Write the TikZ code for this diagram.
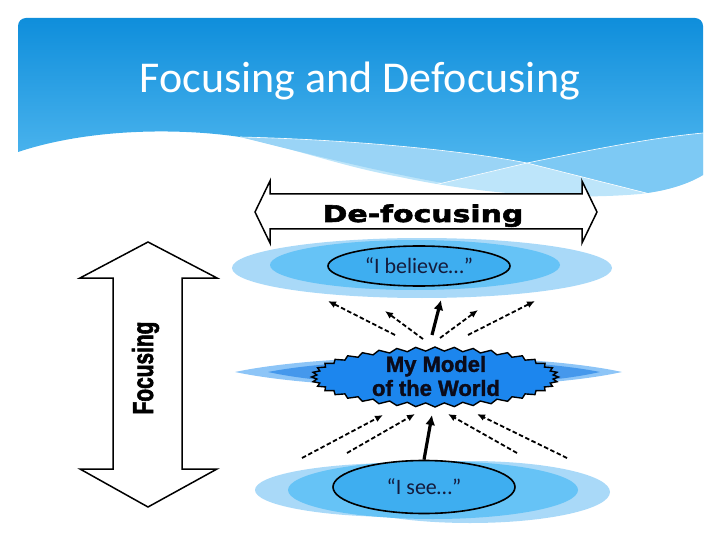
\documentclass[tikz,border=0pt]{standalone}
\usepackage{fontspec}
\setmainfont{Carlito}
\newfontfamily\widefont{DejaVu Sans}[FakeStretch=1.3,FakeBold=2.5]
\newfontfamily\tallfont{Liberation Sans}[FakeStretch=0.72,FakeBold=2]
\newfontfamily\modelfont{Liberation Sans}[FakeBold=1.5]
\usepackage{tikz}
\usetikzlibrary{arrows.meta,shapes.geometric}
\definecolor{hdrtop}{HTML}{0F8EDB}
\definecolor{hdrbot}{HTML}{4DB5EE}
\definecolor{bandA}{HTML}{BDE5FA}
\definecolor{bandB}{HTML}{9AD4F6}
\definecolor{bandC}{HTML}{7DC9F4}
\definecolor{paleblue}{HTML}{A9D9F8}
\definecolor{midblue}{HTML}{66C3F6}
\definecolor{coreblue}{HTML}{3EAEF0}
\definecolor{hazeout}{HTML}{8DC5F7}
\definecolor{hazein}{HTML}{4598EC}
\definecolor{burstblue}{HTML}{1C86EE}
\definecolor{navy}{HTML}{141B3C}
\definecolor{inkblack}{HTML}{0B0B1A}

\begin{document}
\begin{tikzpicture}[
  x=1pt, y=-1pt,
  pale/.style={fill=paleblue},
  midb/.style={fill=midblue},
  core/.style={ellipse, draw, line width=1.6, fill=coreblue, inner sep=0pt,
    text=navy, font=\fontsize{22}{26}\selectfont},
  bigarrow/.style={draw, line width=1.5, fill=white, line join=miter},
  dasharrow/.style={draw, line width=1.8, dash pattern=on 4.5pt off 2.5pt,
    -{Latex[length=8pt,width=7pt]}},
  solidarrow/.style={draw, line width=3.2, -{Latex[length=10pt,width=10pt]}},
  wline/.style={draw, white, line width=0.6}
]
  \useasboundingbox (0,0) rectangle (720,540);

  \begin{scope}
    \clip[rounded corners=8] (18,18) rectangle (703,210);
    \fill[bandA] (240,137) .. controls (300,150) and (340,166) .. (400,177)
      .. controls (470,192) and (560,201) .. (640,194)
      .. controls (670,190) and (690,183) .. (703,175) -- (703,120) -- (240,120) -- cycle;
    \fill[bandB] (240,137) .. controls (330,139) and (450,148) .. (527,163) -- (443,183)
      .. controls (380,172) and (300,152) .. (240,137) -- cycle;
    \fill[bandC] (527,163) .. controls (590,150) and (650,138) .. (703,133) -- (703,175)
      .. controls (690,183) and (670,190) .. (647,193) -- cycle;
    \shade[top color=hdrtop, bottom color=hdrbot] (18,18) -- (703,18) -- (703,133)
      .. controls (650,138) and (590,150) .. (527,163)
      .. controls (450,148) and (330,139) .. (240,137)
      .. controls (180,128) and (90,128) .. (18,152) -- cycle;
    \draw[wline] (240,137) .. controls (330,139) and (450,148) .. (527,163) -- (662,197);
    \draw[wline] (430,186) -- (527,163) .. controls (590,150) and (650,138) .. (703,133);
  \end{scope}
  \node[text=white, anchor=base, font=\fontsize{44}{50}\selectfont] (title) at (360,93)
    {Focusing and Defocusing};

  \fill[pale] (422,268) ellipse [x radius=190, y radius=30];
  \fill[midb] (415,265) ellipse [x radius=145, y radius=25];
  \node[core, minimum width=182, minimum height=40] (believe) at (419,266) {“I believe…”};

  \fill[hazeout] (235,372) .. controls (330,352) and (530,352) .. (622,372)
    .. controls (530,392) and (330,392) .. (235,372) -- cycle;
  \fill[hazein] (268,372) .. controls (350,356) and (520,356) .. (600,372)
    .. controls (520,390) and (350,390) .. (268,372) -- cycle;
  \draw[line width=1.4, fill=burstblue] plot[domain=0:360, samples=81, variable=\t]
    ({435+(121+2.5*cos(40*\t))*cos(\t)}, {377+(28+2*cos(40*\t))*sin(\t)}) -- cycle;
  \node[align=center, text=inkblack, font=\modelfont\bfseries\fontsize{22}{24}\selectfont]
    (model) at (436,376) {My Model\\of the World};

  \fill[pale] (400,490) ellipse [x radius=145, y radius=27];
  \fill[pale] (470,492) ellipse [x radius=140, y radius=31];
  \fill[midb] (433,490) ellipse [x radius=145, y radius=29];
  \node[core, minimum width=182, minimum height=53] (see) at (424,487) {“I see…”};

  \draw[bigarrow] (255,212) -- (270,181) -- (270,194) -- (582,194) -- (582,181)
    -- (597,212) -- (582,243) -- (582,229) -- (270,229) -- (270,243) -- cycle;
  \node[anchor=base, font=\widefont\bfseries\fontsize{23}{26}\selectfont]
    (defocus) at (423,222) {De-focusing};

  \draw[bigarrow] (148,242) -- (217,278) -- (182,278) -- (182,469) -- (217,469)
    -- (148,507) -- (80,469) -- (113,469) -- (113,278) -- (80,278) -- cycle;
  \node[rotate=90, anchor=base, font=\tallfont\bfseries\fontsize{29}{32}\selectfont]
    (focus) at (153,368) {Focusing};

  \foreach \n/\xa/\ya/\xb/\yb in {u1/395/335/328/301, u2/423/339/385/311,
      u4/440/338/478/310, u5/468/335/535/301, d1/302/458/383/415,
      d2/347/453/415/414, d4/517/453/448/414, d5/567/458/477/414} {
    \coordinate (\n s) at (\xa,\ya);
    \coordinate (\n e) at (\xb,\yb);
    \draw[dasharrow] (\n s) -- (\n e);
  }
  \coordinate (u3s) at (432,335);
  \coordinate (u3e) at (441,300);
  \coordinate (d3e) at (432,415);
  \draw[solidarrow] (u3s) -- (u3e);
  \draw[solidarrow] (see.north) -- (d3e);
\end{tikzpicture}
\end{document}
